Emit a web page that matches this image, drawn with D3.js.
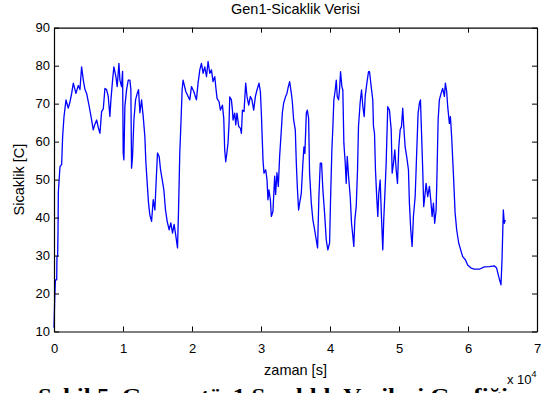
<!DOCTYPE html>
<html>
<head>
<meta charset="utf-8">
<script src="https://cdn.jsdelivr.net/npm/d3@7/dist/d3.min.js"></script>
<style>
    body { margin: 0; background: #fff; }
    svg text { font-family: Arial, 'Liberation Sans', sans-serif; fill: #000; }
</style>
</head>
<body>
<div id="chart"></div>
<script>
// zaman [s]
const timeSec = [
    0, 100, 200, 390, 430, 530, 580, 630, 870, 1110, 1250, 1450, 1740, 2070, 2320, 2560, 2800, 3180, 3520, 3760,
    4000, 4250, 4490, 4730, 5110, 5450, 5690, 5930, 6180, 6420, 6660, 6900, 7140, 7380, 7620, 7860, 8100, 8250, 8490, 8680,
    8970, 9160, 9410, 9550, 9790, 9940, 10030, 10130, 10270, 10520, 10760, 11000, 11140, 11240, 11380, 11580, 11820, 12060, 12250, 12450,
    12690, 12930, 13170, 13310, 13510, 13700, 13890, 14140, 14380, 14620, 14860, 15000, 15250, 15440, 15680, 15920, 16160, 16400, 16690, 16930,
    17180, 17410, 17660, 17900, 18040, 18230, 18380, 18570, 18710, 19100, 19440, 19680, 19920, 20260, 20640, 20880, 21130, 21370, 21610, 21850,
    22100, 22330, 22570, 22820, 23050, 23300, 23440, 23630, 23920, 24120, 24410, 24600, 24740, 24890, 25080, 25220, 25370, 25470, 25710, 25860,
    25950, 26190, 26340, 26520, 26770, 27020, 27160, 27310, 27540, 27780, 27970, 28220, 28460, 28690, 28940, 29190, 29420, 29710, 29910, 30050,
    30290, 30430, 30680, 30870, 31010, 31150, 31360, 31500, 31730, 31980, 32120, 32310, 32510, 32700, 32950, 33090, 33280, 33570, 33760, 33960,
    34150, 34400, 34540, 34730, 34970, 35120, 35260, 35450, 35600, 35840, 36070, 36220, 36360, 36570, 36710, 36900, 37040, 37290, 37520, 37770,
    38010, 38200, 38390, 38590, 38780, 38970, 39210, 39460, 39690, 39940, 40080, 40270, 40420, 40560, 40760, 40910, 41050, 41240, 41380, 41530,
    41720, 41860, 42010, 42210, 42350, 42500, 42690, 42930, 43120, 43310, 43450, 43600, 43800, 43990, 44130, 44380, 44570, 44760, 44960, 45100,
    45340, 45580, 45730, 45970, 46200, 46300, 46450, 46590, 46780, 46930, 47070, 47270, 47420, 47650, 47790, 48000, 48140, 48370, 48620, 48870,
    49010, 49200, 49390, 49590, 49780, 49970, 50170, 50360, 50540, 50690, 50890, 51120, 51370, 51510, 51700, 51900, 52090, 52340, 52480, 52630,
    52770, 52960, 53110, 53250, 53440, 53580, 53790, 53930, 54160, 54410, 54600, 54800, 54990, 55170, 55380, 55520, 55670, 55850, 56100, 56330,
    56580, 56720, 56910, 57060, 57300, 57450, 57630, 57880, 58130, 58360, 58650, 58940, 59230, 59620, 59950, 60440, 60920, 61640, 62370, 63090,
    63810, 64150, 64440, 64780, 64930, 65120, 65260, 65400
];

// Sicaklik [C]
const temperature = [
    11, 18.3, 23.6, 23.6, 29.7, 30, 35.9, 46.8, 53.4, 54, 61.3, 66.6, 71, 68.8, 70.5, 72.7, 75.4, 72.7, 74.8, 73.7,
    79.7, 76.2, 73.7, 72.7, 69.2, 65.7, 63.1, 64.6, 65.7, 63.7, 62.2, 67.9, 68.6, 74, 73.7, 71.9, 66.6, 71, 76.2, 79.7,
    77.1, 74.5, 80.6, 76.2, 74.5, 78.5, 57, 55.2, 69.2, 73.7, 76.2, 76.2, 73.7, 53, 56, 65.7, 71, 72.7, 73.7, 67.6,
    71, 66.6, 61.3, 54.7, 49, 43.8, 40.7, 39, 44.7, 42, 51.7, 57, 56, 52.6, 50, 47.3, 42, 39, 36.8, 38.6,
    35.9, 38.2, 35.1, 32, 41.3, 57, 64, 73.7, 76.2, 73.2, 71.9, 71, 74.5, 73.2, 71, 75.4, 78.9, 80.6, 78, 79.7,
    77.1, 81.1, 78, 78.9, 75.8, 77.1, 74.5, 71.4, 70.5, 68.3, 69.6, 66.2, 57.8, 54.7, 57.4, 59.6, 64.8, 71.8, 71, 68.3,
    65.7, 67.5, 64.4, 67.5, 64, 63.5, 62.2, 68.3, 67.9, 75.4, 71.9, 69.6, 71.9, 71, 68.3, 71.9, 73.6, 75.4, 73.2, 67.5,
    55.2, 51.7, 52.6, 50, 44.7, 47.3, 44.7, 40.3, 41.6, 50.9, 46.1, 51.8, 48.2, 56.1, 63.1, 67.5, 70.1, 71.9, 72.7, 74.5,
    75.8, 72.7, 70.5, 65.7, 63.1, 54.3, 48.2, 42, 43.8, 46.4, 54.3, 58.6, 56.9, 67.5, 68.3, 66.2, 51.7, 43.8, 39.4, 36.8,
    34.1, 32, 45.5, 54.3, 54.3, 47.3, 41.3, 34.1, 31.5, 33.3, 44.7, 57.8, 64, 71, 73.6, 76.2, 71.9, 71, 73.6, 78.4,
    74.5, 73.6, 59.6, 54.3, 49, 56.1, 50.9, 45.5, 38.5, 35.1, 32.4, 39.4, 42.9, 52.6, 64, 70.5, 73.6, 69.2, 66.6, 71.9,
    75.4, 78.4, 78.4, 74.5, 71, 64, 62.2, 52.6, 45.1, 40.3, 46.4, 49.9, 42, 31.5, 39.4, 48.2, 54.3, 69.2, 68.3, 63.1,
    51.7, 54.3, 57.8, 52.6, 49, 58.6, 63.1, 64, 68.8, 64, 58.6, 56, 52.6, 43.8, 36.8, 32.4, 40.3, 45.5, 52.6, 60.5,
    67.5, 70.1, 71, 63.1, 52.6, 42.9, 46.4, 49, 45.5, 48.2, 44.7, 40.3, 43.8, 38.5, 42, 52.6, 65.7, 71, 72.7, 74,
    71.9, 75.4, 73.2, 69.2, 64.8, 66.6, 61.3, 51.7, 41.3, 36.8, 33.3, 31.5, 29.7, 28.9, 27.5, 26.7, 26.4, 26.4, 27, 27.1,
    27.3, 26.7, 24.5, 22.3, 28.9, 42, 38.5, 39.4
];

const xTicks = [0, 10000, 20000, 30000, 40000, 50000, 60000, 70000];
const yTicks = [10, 20, 30, 40, 50, 60, 70, 80, 90];

const W = 550, H = 393;
const pLeft = 54, pRight = 537, pTop = 27.7, pBottom = 331.5;

const svg = d3.select('#chart').append('svg')
    .attr('width', W)
    .attr('height', H);

svg.append('rect').attr('width', W).attr('height', H).attr('fill', '#fff');

const x = d3.scaleLinear().domain([0, 70000]).range([pLeft, pRight]);
const y = d3.scaleLinear().domain([10, 90]).range([pBottom, pTop]);

const data = timeSec.map((t, i) => ({ t: t, v: temperature[i] }));

// veri cizgisi
svg.append('path')
    .datum(data)
    .attr('fill', 'none')
    .attr('stroke', '#0000ff')
    .attr('stroke-width', 1.3)
    .attr('stroke-linejoin', 'round')
    .attr('d', d3.line().x(d => x(d.t)).y(d => y(d.v)));

// eksenler (matlab gibi iceri bakan tickler)
const gx = svg.append('g')
    .attr('transform', `translate(0,${pBottom})`)
    .call(d3.axisBottom(x).tickValues(xTicks).tickSizeInner(-5).tickSizeOuter(0).tickPadding(12.3)
        .tickFormat(d => d / 10000));
svg.append('g')
    .attr('transform', `translate(0,${pTop})`)
    .call(d3.axisTop(x).tickValues(xTicks).tickSizeInner(-5).tickSizeOuter(0).tickFormat(''));
const gy = svg.append('g')
    .attr('transform', `translate(${pLeft},0)`)
    .call(d3.axisLeft(y).tickValues(yTicks).tickSizeInner(-5).tickSizeOuter(0).tickPadding(4));
svg.append('g')
    .attr('transform', `translate(${pRight},0)`)
    .call(d3.axisRight(y).tickValues(yTicks).tickSizeInner(-5).tickSizeOuter(0).tickFormat(''));

svg.selectAll('.domain').attr('stroke', '#000').attr('stroke-width', 1.2);
svg.selectAll('.tick line').attr('stroke', '#000');
gx.selectAll('text').attr('font-size', 13).attr('font-family', 'Arial, Liberation Sans, sans-serif');
gy.selectAll('text').attr('font-size', 13).attr('font-family', 'Arial, Liberation Sans, sans-serif');

// yazilar
svg.append('text')
    .attr('x', (pLeft + pRight) / 2)
    .attr('y', 14)
    .attr('text-anchor', 'middle')
    .attr('font-size', 14.5)
    .text('Gen1-Sicaklik Verisi');

svg.append('text')
    .attr('x', (pLeft + pRight) / 2)
    .attr('y', 375)
    .attr('text-anchor', 'middle')
    .attr('font-size', 14.5)
    .text('zaman [s]');

svg.append('text')
    .attr('transform', `translate(24,${(pTop + pBottom) / 2}) rotate(-90)`)
    .attr('text-anchor', 'middle')
    .attr('font-size', 14.5)
    .text('Sicaklik [C]');

const exp = svg.append('text')
    .attr('x', 507)
    .attr('y', 384)
    .attr('font-size', 13)
    .text('x 10');
exp.append('tspan')
    .attr('dy', -7)
    .attr('font-size', 9)
    .text('4');

// alt yazi (resmin altinda kesik)
svg.append('text')
    .attr('x', 38)
    .attr('y', 403)
    .attr('font-size', 20)
    .attr('textLength', 470)
    .attr('lengthAdjust', 'spacingAndGlyphs')
    .style('font-family', "'Liberation Serif', 'Times New Roman', serif")
    .attr('font-weight', 'bold')
    .text('Şekil 5. Generatör1 Sıcaklık Verileri Grafiği');
</script>
</body>
</html>
